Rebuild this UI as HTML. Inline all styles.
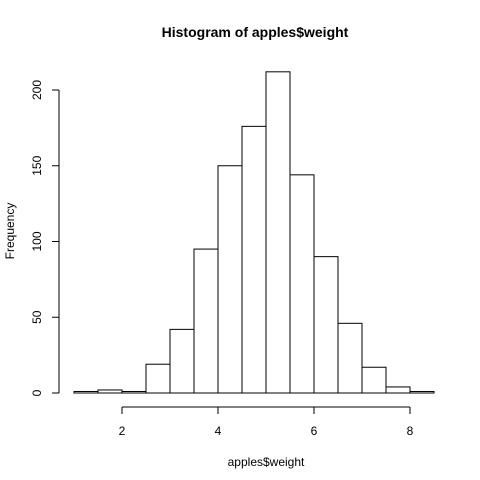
<!DOCTYPE html>
<html><head><meta charset="utf-8"><style>body{margin:0;background:#fff}svg{display:block}text{font-family:"Liberation Sans",Arial,sans-serif;fill:#000}</style></head>
<body>
<svg id="c" width="480" height="480" viewBox="0 0 480 480">
<text x="255" y="37" font-size="14" font-weight="bold" text-anchor="middle">Histogram of apples$weight</text>
<text x="266" y="466" font-size="12" text-anchor="middle">apples$weight</text>
<text transform="translate(14,231) rotate(-90)" font-size="12" text-anchor="middle">Frequency</text>
<g id="bars"></g><g id="xaxis"></g><g id="yaxis"></g>
</svg>
<script>
const breaks=[1,1.5,2,2.5,3,3.5,4,4.5,5,5.5,6,6.5,7,7.5,8,8.5];
const counts=[1,2,1,19,42,95,150,176,212,144,90,46,17,4,1];
const xTicks=[2,4,6,8];
const yTicks=[0,50,100,150,200];
const NS="http://www.w3.org/2000/svg";
const sx=v=>122+(v-2)*48;
const sy=v=>393-v*(303/200);
function mk(t,a,p){const e=document.createElementNS(NS,t);for(const k in a)e.setAttribute(k,a[k]);p.appendChild(e);return e;}
const bars=document.getElementById('bars');
counts.forEach((c,i)=>{
 const x0=sx(breaks[i]),x1=sx(breaks[i+1]);
 const r=mk('rect',{x:x0,y:sy(c),width:x1-x0,height:sy(0)-sy(c),fill:'#fff',stroke:'#000','stroke-width':1},bars);
 
 
});
const xa=document.getElementById('xaxis');


mk('line',{x1:sx(xTicks[0]),x2:sx(xTicks[xTicks.length-1]),y1:407,y2:407,stroke:'#000'},xa);
xTicks.forEach(t=>{mk('line',{x1:sx(t),x2:sx(t),y1:407,y2:414,stroke:'#000'},xa);
 const tx=mk('text',{x:sx(t),y:435,'font-size':12,'text-anchor':'middle'},xa);tx.textContent=t;
 
 });
const ya=document.getElementById('yaxis');


mk('line',{x1:59,x2:59,y1:sy(yTicks[0]),y2:sy(yTicks[yTicks.length-1]),stroke:'#000'},ya);
yTicks.forEach(t=>{mk('line',{x1:52,x2:59,y1:sy(t),y2:sy(t),stroke:'#000'},ya);
 const tx=mk('text',{transform:`translate(41,${sy(t)}) rotate(-90)`,'font-size':12,'text-anchor':'middle'},ya);tx.textContent=t;
 
 });
</script>
</body></html>
